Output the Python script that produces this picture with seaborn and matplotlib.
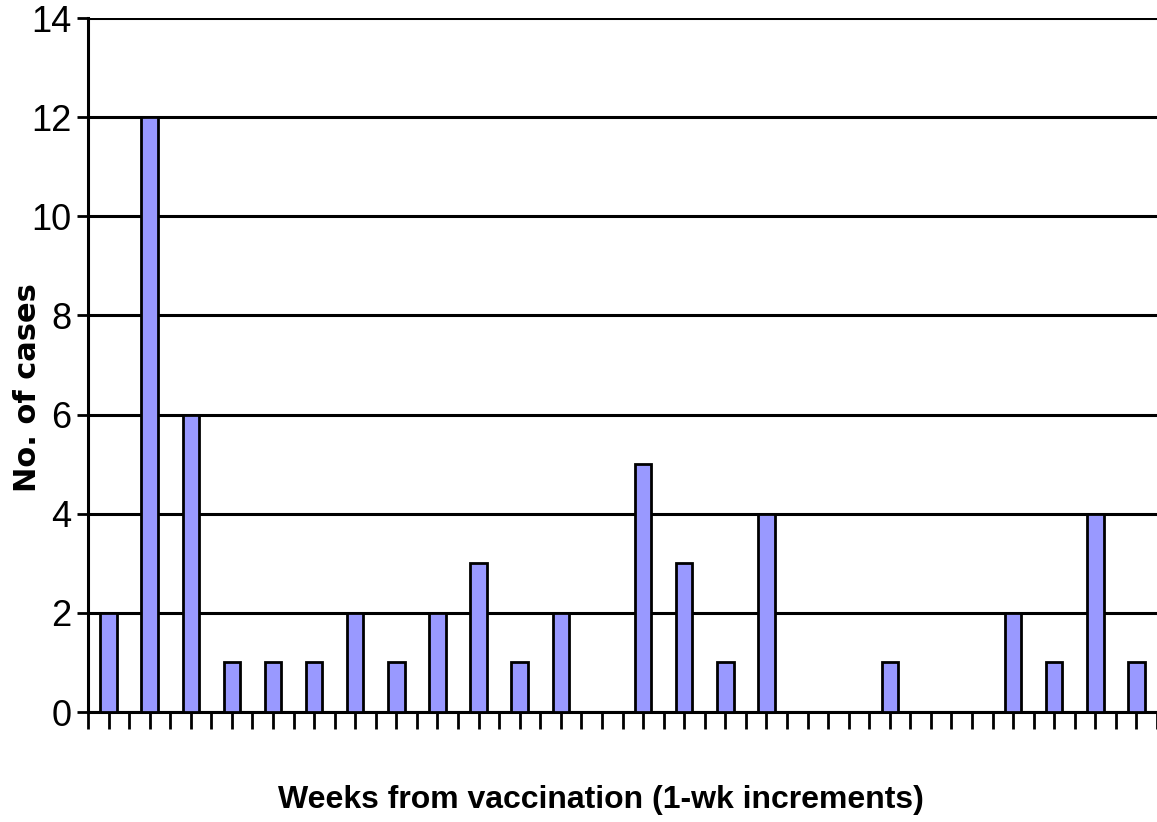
import matplotlib
matplotlib.use("Agg")
import matplotlib.pyplot as plt
import seaborn as sns
import numpy as np
from matplotlib import font_manager

weeks = list(range(1, 27))
cases = [2, 12, 6, 1, 1, 1, 2, 1, 2, 3, 1, 2, 0, 5, 3, 1, 4, 0, 0, 1, 0, 0, 2, 1, 4, 1]
yticks = [0, 2, 4, 6, 8, 10, 12, 14]

sns.set_theme(style="white")
names = {f.name for f in font_manager.fontManager.ttflist}
narrow = "Liberation Sans Narrow" if "Liberation Sans Narrow" in names else "Liberation Sans"
plt.rcParams['font.family'] = [narrow, 'DejaVu Sans']
plt.rcParams['text.color'] = 'black'
plt.rcParams['ytick.color'] = 'black'
plt.rcParams['xtick.color'] = 'black'

fig = plt.figure(figsize=(11.57, 8.22), dpi=100)
ax = fig.add_axes([88/1157, 1 - 712/822, 1 - 88/1157, (712 - 18)/822])

sns.barplot(x=weeks, y=cases, color="#9999FF", width=0.4, edgecolor="black",
            linewidth=2, saturation=1, ax=ax, zorder=3)

ax.set_xlim(-0.5, len(weeks) - 0.5)
ax.set_ylim(0, 14)
ax.set_yticks(yticks)
ax.set_yticklabels([str(v) for v in yticks], fontsize=26, color="black")
ax.set_xticks(np.arange(-0.5, len(weeks), 0.5))
ax.set_xticklabels([])
ax.tick_params(axis="x", direction="out", length=12, width=2, color="black", bottom=True)
ax.tick_params(axis="y", direction="out", length=8, width=2, color="black", left=True, pad=4)

ax.yaxis.grid(True, color="black", linewidth=2.2)
ax.xaxis.grid(False)
ax.set_axisbelow(True)

for s in ["top", "right"]:
    ax.spines[s].set_visible(False)
for s in ["left", "bottom"]:
    ax.spines[s].set_visible(True)
    ax.spines[s].set_color("black")
    ax.spines[s].set_linewidth(2.2)

ax.set_ylabel("")
ax.set_xlabel("")
fig.text(28/1157, 1 - 388/822, "No. of cases", rotation=90, ha="center", va="center",
         fontsize=22, fontweight="bold", family=["DejaVu Sans"], color="black")
fig.text(601/1157, 1 - 800/822, "Weeks from vaccination (1-wk increments)", ha="center", va="center",
         fontsize=23, fontweight="bold", color="black")

fig.savefig("out.png", dpi=100)
